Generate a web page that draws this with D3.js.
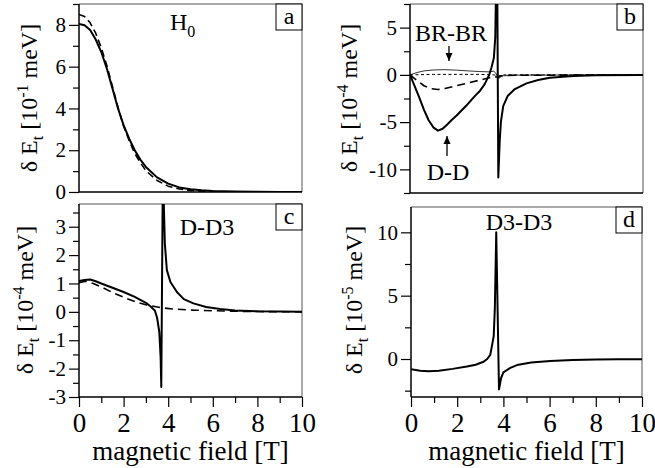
<!DOCTYPE html>
<html><head><meta charset="utf-8">
<script src="https://cdn.jsdelivr.net/npm/d3@7"></script>
<style>body{margin:0;background:#fff}svg{display:block}text{font-family:"Liberation Serif","Tinos","Times New Roman",Times,"Nimbus Roman","DejaVu Serif",serif;fill:#000}</style>
</head><body>
<svg id="c" width="655" height="468"></svg>
<script>
// ---- data ----
const xTicks = [0,2,4,6,8,10];
const aSolid = [[0,8.05],[0.25,7.98],[0.5,7.75],[0.75,7.3],[1,6.7],[1.25,5.9],[1.5,4.95],[1.75,4.0],[2,3.2],[2.25,2.55],[2.5,2.0],[2.75,1.55],[3,1.2],[3.5,0.7],[4,0.4],[4.5,0.22],[5,0.13],[5.5,0.08],[6,0.05],[7,0.02],[8,0.008],[9,0.003],[10,0.001]];
const aDashed = [[0,8.5],[0.25,8.4],[0.5,8.1],[0.75,7.6],[1,6.9],[1.25,6.05],[1.5,5.05],[1.75,4.05],[2,3.15],[2.25,2.45],[2.5,1.85],[2.75,1.4],[3,1.02],[3.5,0.55],[4,0.28],[4.5,0.14],[5,0.07],[5.5,0.035],[6,0.018],[7,0.005],[8,0.001],[10,0]];
const bDD = [[0,0],[0.2,-1.2],[0.4,-2.4],[0.6,-3.7],[0.8,-4.8],[1,-5.55],[1.2,-5.9],[1.4,-5.7],[1.6,-5.25],[1.8,-4.75],[2,-4.3],[2.4,-3.3],[2.8,-2.2],[3,-1.7],[3.2,-1.0],[3.4,0.0],[3.5,0.8],[3.6,1.8],[3.66,4],[3.71,12],[3.74,12],[3.79,-10.85],[3.85,-7],[3.9,-5],[4,-3.3],[4.2,-2.2],[4.5,-1.5],[5,-0.9],[5.5,-0.55],[6,-0.3],[7,-0.12],[8,-0.05],[10,0]];
const bBR = [[0,0],[0.3,0.25],[0.6,0.42],[1,0.52],[1.5,0.55],[2,0.5],[2.5,0.42],[3,0.35],[3.4,0.32],[3.6,0.4],[3.7,0.1],[3.8,-0.4],[3.9,-0.2],[4,-0.1],[4.5,-0.03],[10,0]];
const bDot = [[0,0],[1,0.05],[2,0.05],[3,0.05],[3.6,0],[3.8,-0.1],[4,0],[10,0]];
const bDash = [[0,0],[0.3,-0.6],[0.6,-1.15],[0.9,-1.45],[1.2,-1.55],[1.5,-1.45],[2,-1.15],[2.5,-0.85],[3,-0.55],[3.4,-0.3],[3.6,-0.2],[3.8,-0.25],[3.9,-0.1],[4.2,-0.05],[10,0]];
const cSolid = [[0,1.09],[0.25,1.12],[0.5,1.14],[0.75,1.08],[1,1.0],[1.5,0.85],[2,0.7],[2.5,0.53],[3,0.32],[3.2,0.2],[3.4,0.05],[3.5,-0.2],[3.6,-0.7],[3.66,-1.6],[3.69,-2.65],[3.75,3.9],[3.8,3.9],[3.85,2.4],[3.94,1.47],[4.1,1.05],[4.39,0.7],[4.7,0.45],[5.13,0.3],[5.7,0.17],[6.33,0.1],[7,0.05],[8,0.02],[9,0.01],[10,0.005]];
const cDashed = [[0,1.03],[0.3,1.08],[0.64,1.0],[1,0.88],[1.5,0.68],[2.14,0.47],[2.6,0.34],[3.04,0.24],[3.64,0.15],[4.2,0.1],[5.13,0.06],[6,0.04],[7,0.02],[8,0.01],[10,0]];
const dSolid = [[0,-0.8],[0.4,-0.93],[0.76,-0.97],[1.2,-0.92],[1.8,-0.78],[2.42,-0.6],[2.8,-0.45],[3.14,-0.22],[3.3,0.0],[3.43,0.32],[3.5,1.0],[3.58,1.8],[3.63,4],[3.69,10],[3.81,-2.4],[3.9,-1.5],[4.0,-1.05],[4.3,-0.7],[4.59,-0.48],[5.2,-0.28],[6.03,-0.16],[7,-0.08],[8,-0.04],[9,-0.02],[10,-0.01]];

// ---- drawing ----
const svg = d3.select('#c');
const FONT = '"Liberation Serif","Tinos","Times New Roman",Times,"Nimbus Roman","DejaVu Serif",serif';
const panels = [
  {id:'a', l:79, r:302, t:4, b:192, ydom:[0,9], major:[0,2,4,6,8], minor:[1,3,5,7,9], xlab:false,
   ylab:{x:37,y:98,exp:'-1'},
   lines:[{d:aSolid,w:2},{d:aDashed,w:1.6,dash:'7,4'}]},
  {id:'b', l:410, r:643, t:4, b:193, ydom:[-12.5,7.5], major:[-10,-5,0,5], minor:[-12.5,-7.5,-2.5,2.5,7.5], xlab:false,
   ylab:{x:357,y:98,exp:'-4'},
   lines:[{d:bBR,w:1,color:'#333'},{d:bDot,w:1,dash:'3,2.5'},{d:bDash,w:1.6,dash:'8,5'},{d:bDD,w:2}]},
  {id:'c', l:79, r:302, t:204, b:397, ydom:[-3,3.8], major:[-3,-2,-1,0,1,2,3], minor:[-2.5,-1.5,-0.5,0.5,1.5,2.5,3.5], xlab:true,
   ylab:{x:33,y:300,exp:'-4'},
   lines:[{d:cDashed,w:1.6,dash:'8,5'},{d:cSolid,w:2}]},
  {id:'d', l:411, r:642, t:207, b:397, ydom:[-3,12], major:[0,5,10], minor:[-2.5,2.5,7.5], xlab:true,
   ylab:{x:362,y:300,exp:'-5'},
   lines:[{d:dSolid,w:2}]}
];

panels.forEach(p => {
  const x = d3.scaleLinear().domain([0,10]).range([p.l,p.r]);
  const y = d3.scaleLinear().domain(p.ydom).range([p.b,p.t]);
  const g = svg.append('g');
  g.append('clipPath').attr('id','clip'+p.id).append('rect')
    .attr('x',p.l).attr('y',p.t).attr('width',p.r-p.l).attr('height',p.b-p.t);
  g.append('path').attr('d',`M${p.l},${p.t}H${p.r}V${p.b}`).attr('fill','none').attr('stroke','#555').attr('stroke-width',1);
  const line = d3.line().x(d=>x(d[0])).y(d=>y(d[1]));
  const cg = g.append('g').attr('clip-path',`url(#clip${p.id})`);
  p.lines.forEach(L => {
    cg.append('path').datum(L.d).attr('d',line).attr('fill','none')
      .attr('stroke',L.color||'#000').attr('stroke-width',L.w)
      .attr('stroke-dasharray',L.dash||null).attr('stroke-linejoin','round');
  });
  const ya = g.append('g').attr('transform',`translate(${p.l},0)`)
    .call(d3.axisLeft(y).tickValues(p.major).tickSize(10).tickPadding(3).tickFormat(d3.format('d')));
  ya.attr('font-family',FONT);
  ya.select('.domain').attr('stroke','#000').attr('stroke-width',1.5).attr('d',`M0,${p.b}V${p.t}`);
  ya.selectAll('.tick line').attr('stroke','#000').attr('stroke-width',1.2);
  ya.selectAll('.tick text').attr('font-size',21).text(d=>String(d));
  const ym = g.append('g').attr('transform',`translate(${p.l},0)`)
    .call(d3.axisLeft(y).tickValues(p.minor.filter(v=>v>=p.ydom[0]&&v<=p.ydom[1])).tickSize(6).tickFormat(''));
  ym.select('.domain').remove();
  ym.selectAll('.tick line').attr('stroke','#000').attr('stroke-width',1.2);
  const xa = g.append('g').attr('transform',`translate(0,${p.b})`)
    .call(d3.axisBottom(x).tickValues(p.xlab?xTicks:[]).tickSize(10).tickPadding(6).tickFormat(d3.format('d')));
  xa.attr('font-family',FONT);
  xa.select('.domain').attr('stroke','#000').attr('stroke-width',1.5).attr('d',`M${p.l},0H${p.r}`);
  xa.selectAll('.tick line').attr('stroke','#000').attr('stroke-width',1.2);
  xa.selectAll('.tick text').attr('font-size',27);
  if (p.xlab) {
    const xm = g.append('g').attr('transform',`translate(0,${p.b})`)
      .call(d3.axisBottom(x).tickValues([1,3,5,7,9]).tickSize(6).tickFormat(''));
    xm.select('.domain').remove();
    xm.selectAll('.tick line').attr('stroke','#000').attr('stroke-width',1.2);
    g.append('text').attr('x',(p.l+p.r)/2).attr('y',460).attr('text-anchor','middle')
      .attr('font-size',27).text('magnetic field [T]');
  }
  const yl = g.append('text').attr('transform',`translate(${p.ylab.x},${p.ylab.y}) rotate(-90)`)
    .attr('text-anchor','middle').attr('font-size',24);
  yl.append('tspan').text('\u03b4 E');
  yl.append('tspan').attr('font-size',16).attr('dy',6).text('t');
  yl.append('tspan').attr('dy',-6).text(' [10');
  yl.append('tspan').attr('font-size',16).attr('dy',-9).text(p.ylab.exp);
  yl.append('tspan').attr('dy',9).text(' meV]');
  g.append('rect').attr('x',p.r-26).attr('y',p.t).attr('width',26).attr('height',26)
    .attr('fill','#fff').attr('stroke','#000').attr('stroke-width',1);
  g.append('text').attr('x',p.r-13).attr('y',p.t+20).attr('text-anchor','middle').attr('font-size',24).text(p.id);
});

const h0 = svg.append('text').attr('x',170).attr('y',30).attr('font-size',24);
h0.append('tspan').text('H');
h0.append('tspan').attr('font-size',16).attr('dy',7).text('0');
svg.append('text').attr('x',451).attr('y',41).attr('text-anchor','middle').attr('font-size',24).text('BR-BR');
svg.append('text').attr('x',448).attr('y',180).attr('text-anchor','middle').attr('font-size',24).text('D-D');
svg.append('text').attr('x',207).attr('y',235).attr('text-anchor','middle').attr('font-size',24).text('D-D3');
svg.append('text').attr('x',519).attr('y',230).attr('text-anchor','middle').attr('font-size',24).text('D3-D3');
function arrow(x0,y0,y1){
  svg.append('line').attr('x1',x0).attr('y1',y0).attr('x2',x0).attr('y2',y1).attr('stroke','#000').attr('stroke-width',1.3);
  const s = y1>y0?1:-1;
  svg.append('path').attr('d',`M${x0-3.5},${y1-8*s}L${x0},${y1}L${x0+3.5},${y1-8*s}Z`).attr('fill','#000');
}
arrow(449,46,61);
arrow(447,156,136);
</script>
</body></html>
